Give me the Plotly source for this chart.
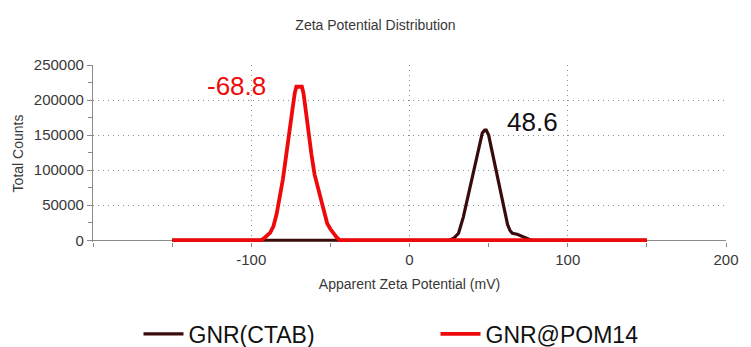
import plotly.graph_objects as go

# ---- data ----
series_names = ["GNR(CTAB)", "GNR@POM14"]
series_colors = ["#3a0b0b", "#ee0a0a"]

ctab_x = [-150, 25, 28, 31, 34, 37, 40, 43, 46, 47.5, 48.5, 50, 52, 54, 56, 58, 60, 62, 63.5, 65, 68, 71, 74, 77, 150]
ctab_y = [0, 0, 3000, 10000, 33000, 63000, 92000, 124000, 153000, 157000, 157000, 150000, 128000, 105000,
          84000, 63000, 41000, 22000, 14000, 10000, 8500, 6000, 3000, 0, 0]

pom_x = [-150, -94, -92, -90, -88, -86, -84, -82, -80, -78, -76, -74, -72.5, -71.5, -68, -67, -66, -64, -62,
         -60, -58, -56, -54, -52, -50, -48, -46, -44, 150]
pom_y = [0, 0, 2500, 6000, 11000, 20000, 37000, 62000, 87000, 120000, 158000, 186000, 210000, 219000, 219000,
         210000, 193000, 155000, 123000, 94000, 76000, 58000, 42000, 24000, 16000, 9500, 4000, 0, 0]

peak_labels = ["48.6", "-68.8"]

x_ticks = [-100, 0, 100, 200]
y_ticks = [0, 50000, 100000, 150000, 200000, 250000]

FONT = "Liberation Sans, Arial, sans-serif"
GRID = "#8f8f8f"
AXIS = "#8a8a8a"
TXT = "#383838"

fig = go.Figure()
fig.add_trace(go.Scatter(x=ctab_x, y=ctab_y, mode="lines", name=series_names[0],
                         line=dict(color=series_colors[0], width=3.2)))
fig.add_trace(go.Scatter(x=pom_x, y=pom_y, mode="lines", name=series_names[1],
                         line=dict(color=series_colors[1], width=3.8)))

fig.add_annotation(x=77.5, y=169000, text=peak_labels[0], showarrow=False,
                   font=dict(size=26, color="#111111", family=FONT))
fig.add_annotation(x=-109.5, y=220000, text=peak_labels[1], showarrow=False,
                   font=dict(size=26, color=series_colors[1], family=FONT))

fig.update_layout(
    width=751, height=347,
    margin=dict(l=93, r=18, t=65, b=105),
    paper_bgcolor="white", plot_bgcolor="white",
    font=dict(family=FONT, color=TXT),
    title=dict(text="Zeta Potential Distribution", x=0.5, xanchor="center",
               y=1 - 25 / 347, yanchor="middle", yref="container",
               font=dict(size=14, color=TXT, family=FONT)),
    showlegend=True,
    legend=dict(orientation="h", x=(139 - 93) / 640, xanchor="left",
                yref="container", y=1 - 334 / 347, yanchor="middle",
                entrywidth=242, entrywidthmode="pixels",
                font=dict(size=23, color="#111111", family=FONT),
                bgcolor="rgba(0,0,0,0)", itemwidth=40),
)

fig.update_xaxes(
    range=[-200, 200], tickvals=x_ticks, ticktext=[str(v) for v in x_ticks],
    showgrid=True, gridcolor=GRID, griddash="1px,4px", gridwidth=1.3,
    zeroline=False, showline=False,
    ticks="outside", ticklen=4, tickcolor=AXIS,
    minor=dict(dtick=50, tick0=0, ticks="outside", ticklen=4, tickcolor=AXIS, showgrid=False),
    tickfont=dict(size=15, color=TXT, family=FONT),
    title=dict(text="Apparent Zeta Potential (mV)", font=dict(size=14, color=TXT, family=FONT), standoff=12),
)
fig.update_yaxes(
    range=[-2500, 250000], tickvals=y_ticks, ticktext=[str(v) for v in y_ticks],
    showgrid=True, gridcolor=GRID, griddash="1px,4px", gridwidth=1.3,
    zeroline=True, zerolinecolor=AXIS, zerolinewidth=1.2,
    showline=True, linecolor=AXIS, linewidth=1.2,
    ticks="outside", ticklen=5, tickcolor=AXIS,
    minor=dict(dtick=25000, tick0=0, ticks="outside", ticklen=4, tickcolor=AXIS, showgrid=False),
    tickfont=dict(size=15, color=TXT, family=FONT),
    title=dict(text="Total Counts", font=dict(size=14, color=TXT, family=FONT), standoff=6),
)

fig.write_html("out.html")
